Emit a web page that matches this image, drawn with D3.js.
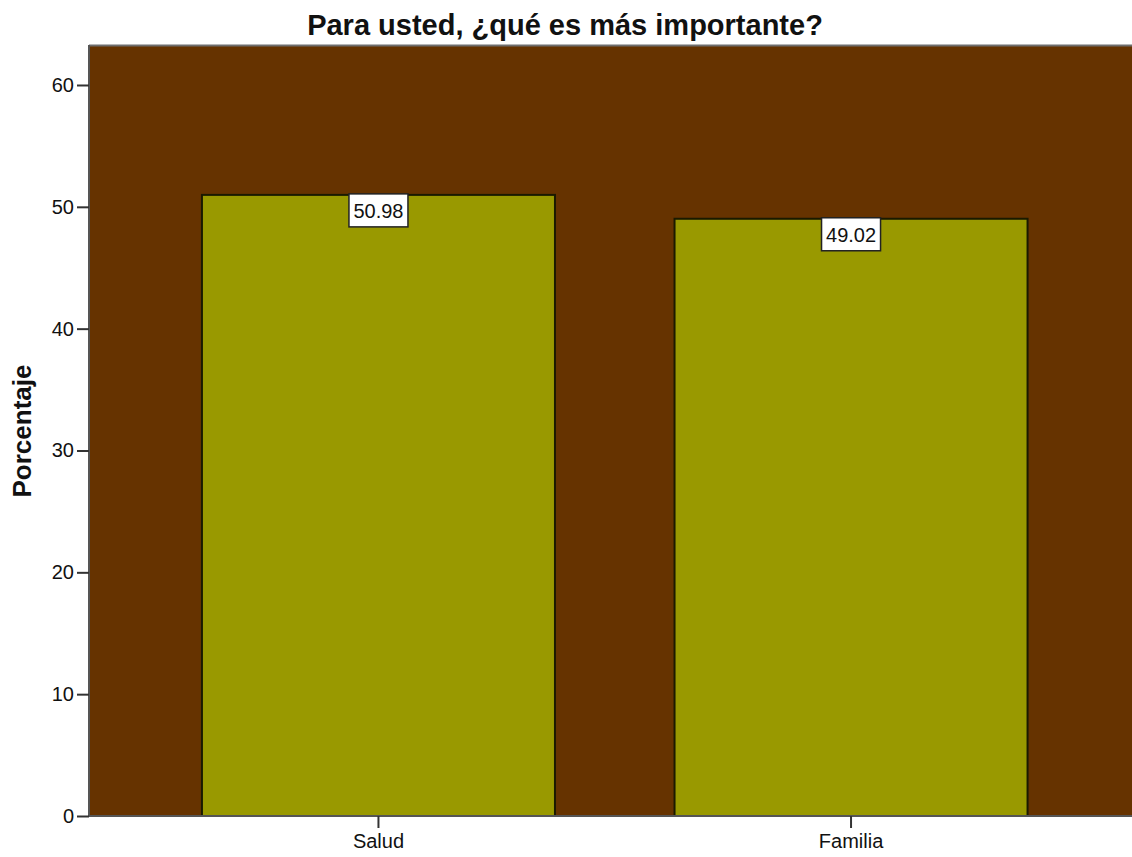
<!DOCTYPE html>
<html>
<head>
<meta charset="utf-8">
<script src="https://cdn.jsdelivr.net/npm/d3@7"></script>
<style>
  html, body { margin: 0; padding: 0; background: #ffffff; }
  svg { display: block; }
  text { font-family: Arial, "Liberation Sans", sans-serif; fill: #111; }
</style>
</head>
<body>
<script>
// Survey responses: share of respondents per answer
const categories = ["Salud", "Familia"];
const percentages = [50.98, 49.02];
const yTicks = [0, 10, 20, 30, 40, 50, 60];
const title = "Para usted, ¿qué es más importante?";
const yTitle = "Porcentaje";

const W = 1132, H = 857;
const plot = { left: 89, top: 46, bottom: 816, right: 1140.5 };

const svg = d3.select("body").append("svg")
  .attr("width", W).attr("height", H);

const y = d3.scaleLinear().domain([0, 63.2]).range([plot.bottom, plot.top]);
const x = d3.scaleBand().domain(categories)
  .range([plot.left, plot.right])
  .paddingInner(0.253).paddingOuter(0.239);

// plot background
svg.append("rect")
  .attr("x", plot.left).attr("y", plot.top)
  .attr("width", plot.right - plot.left).attr("height", plot.bottom - plot.top)
  .attr("fill", "#663300");

// top frame line
svg.append("line")
  .attr("x1", plot.left).attr("x2", W)
  .attr("y1", plot.top - 0.5).attr("y2", plot.top - 0.5)
  .attr("stroke", "#6e6e6e").attr("stroke-width", 2);

// bars
svg.append("g").selectAll("rect")
  .data(categories)
  .join("rect")
  .attr("x", d => x(d))
  .attr("y", (d, i) => y(percentages[i]))
  .attr("width", x.bandwidth())
  .attr("height", (d, i) => y(0) - y(percentages[i]))
  .attr("fill", "#999900")
  .attr("stroke", "#1a1a00")
  .attr("stroke-width", 2);

// value labels in white boxes at the top of each bar
const labels = svg.append("g").selectAll("g")
  .data(categories)
  .join("g")
  .attr("transform", (d, i) => `translate(${x(d) + x.bandwidth() / 2},${y(percentages[i])})`);
labels.append("rect")
  .attr("x", -29.5).attr("y", -1)
  .attr("width", 59).attr("height", 33)
  .attr("fill", "#ffffff")
  .attr("stroke", "#222").attr("stroke-width", 1.5);
labels.append("text")
  .attr("x", 0).attr("y", 23.5)
  .attr("text-anchor", "middle")
  .attr("font-size", "20px")
  .text((d, i) => percentages[i].toFixed(2));

// y axis
const yAxis = svg.append("g")
  .attr("transform", `translate(${plot.left},0)`)
  .call(d3.axisLeft(y).tickValues(yTicks).tickSize(12).tickPadding(3).tickSizeOuter(0));
yAxis.select(".domain").attr("stroke", "#555").attr("stroke-width", 2)
  .attr("d", `M0,${plot.top - 1}V${plot.bottom}`);
yAxis.selectAll(".tick line").attr("stroke", "#333").attr("stroke-width", 2);
yAxis.selectAll(".tick text")
  .attr("font-size", "20px").attr("fill", "#111")
  .style("font-family", "Arial, 'Liberation Sans', sans-serif");

// x axis
const xAxis = svg.append("g")
  .attr("transform", `translate(0,${plot.bottom})`)
  .call(d3.axisBottom(x).tickSize(12).tickPadding(6).tickSizeOuter(0));
xAxis.select(".domain").attr("stroke", "#555").attr("stroke-width", 2)
  .attr("d", `M${plot.left},0H${W}`);
xAxis.selectAll(".tick line").attr("stroke", "#333").attr("stroke-width", 2);
xAxis.selectAll(".tick text")
  .attr("font-size", "20px").attr("fill", "#111")
  .style("font-family", "Arial, 'Liberation Sans', sans-serif");

// titles
svg.append("text")
  .attr("x", 565).attr("y", 35)
  .attr("text-anchor", "middle")
  .attr("font-size", "29px").attr("font-weight", "bold")
  .text(title);

svg.append("text")
  .attr("transform", `translate(31,431) rotate(-90)`)
  .attr("text-anchor", "middle")
  .attr("font-size", "26px").attr("font-weight", "bold")
  .text(yTitle);
</script>
</body>
</html>
